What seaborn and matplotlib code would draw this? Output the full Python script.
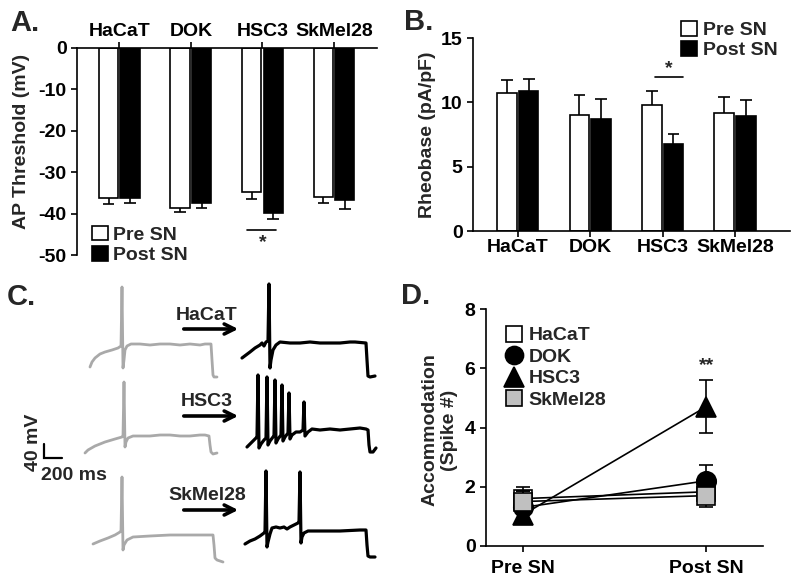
import numpy as np
import pandas as pd
import seaborn as sns
import matplotlib.pyplot as plt
from matplotlib.patches import Patch
from matplotlib.lines import Line2D

cells = ['HaCaT', 'DOK', 'HSC3', 'SkMel28']
conds = ['Pre SN', 'Post SN']

# A. AP threshold (mV), mean and SEM
thr_pre = [-36.2, -38.7, -34.8, -35.9]
thr_post = [-36.2, -37.5, -39.8, -36.8]
thr_pre_sem = [1.6, 0.9, 1.7, 1.6]
thr_post_sem = [1.3, 1.1, 1.6, 2.0]

# B. rheobase (pA/pF), mean and SEM
rheo_pre = [10.7, 9.0, 9.8, 9.2]
rheo_post = [10.85, 8.7, 6.75, 8.9]
rheo_pre_sem = [1.0, 1.55, 1.05, 1.2]
rheo_post_sem = [1.0, 1.55, 0.8, 1.3]

# D. accommodation (spike #), mean and SEM
acc_pre = [1.6, 1.3, 1.05, 1.5]
acc_post = [1.83, 2.2, 4.7, 1.7]
acc_pre_sem = [0.4, 0.55, 0.3, 0.35]
acc_post_sem = [0.2, 0.55, 0.9, 0.4]

# C. example traces (time, voltage relative to trace start)
hacat_pre_t = [0, 2, 5, 10, 15, 22, 28, 31, 32, 33, 34, 35, 37, 41, 50, 60, 70, 80, 90, 100, 110, 115, 121, 122, 123, 124, 127]
hacat_pre_v = [0, 5, 9, 13, 15, 17, 19, 21, 80, -1, 7, 17, 21, 23, 23, 22, 23, 23, 22, 23, 22, 23, 23, 7, -8, -10, -10]
hacat_post_t = [0, 4, 8, 13, 18, 20, 22, 24, 26, 27, 28, 29, 31, 34, 38, 48, 58, 68, 78, 88, 98, 108, 113, 124, 125, 126, 128, 133]
hacat_post_v = [0, 3, 6, 10, 13, 15, 12, 16, 17, 74, -10, -2, 8, 13, 16, 15, 15, 16, 15, 15, 15, 16, 16, 15, -2, -18, -19, -18]
hsc3_pre_t = [0, 3, 10, 20, 30, 37, 38, 39, 40, 41, 43, 48, 58, 65, 75, 85, 95, 105, 115, 120, 124, 125, 126, 128, 132]
hsc3_pre_v = [0, 3, 7, 11, 14, 16, 17, 71, 6, 11, 15, 17, 17, 17, 18, 18, 17, 17, 18, 18, 17, 8, 1, -1, 0]
hsc3_post_t = [0, 3, 6, 9, 10, 11, 12, 14, 17, 19, 20, 21, 23, 26, 27, 28, 29, 31, 34, 35, 36, 38, 41, 42, 43, 45, 49,
               53, 56, 57, 58, 61, 65, 73, 83, 93, 103, 113, 119, 121, 122, 123, 126, 129]
hsc3_post_v = [0, 3, 6, 9, 10, 72, -1, 3, 7, 9, 70, 2, 6, 10, 11, 67, 4, 8, 12, 62, 6, 10, 14, 54, 8, 12, 15,
               15, 17, 45, 11, 15, 18, 17, 18, 17, 18, 19, 18, 17, 2, -5, -5, -1]
skmel_pre_t = [0, 7, 15, 22, 27, 28, 29, 30, 31, 34, 40, 57, 77, 97, 112, 120, 121, 122, 124, 130]
skmel_pre_v = [0, 3, 6, 9, 12, 13, 67, -6, -1, 4, 7, 8, 9, 9, 9, 9, -1, -14, -16, -18]
skmel_post_t = [0, 5, 10, 15, 19, 20, 21, 22, 23, 25, 27, 31, 35, 39, 42, 45, 49, 53, 54, 55, 56, 57, 59, 63,
                75, 95, 115, 121, 122, 123, 125, 130]
skmel_post_v = [0, 3, 5, 8, 11, 12, 73, -3, 2, 10, 16, 17, 16, 17, 15, 17, 19, 21, 22, 72, 1, 7, 11, 13,
                13, 13, 14, 14, -1, -12, -13, -13]

sns.set_style('ticks')
plt.rcParams['font.family'] = ['Liberation Sans', 'DejaVu Sans']
plt.rcParams['font.weight'] = 'bold'
plt.rcParams['axes.labelweight'] = 'bold'
plt.rcParams['axes.linewidth'] = 1.2
plt.rcParams['axes.edgecolor'] = 'black'
for ax_ in ['xtick', 'ytick']:
    plt.rcParams[ax_ + '.major.width'] = 1.2
    plt.rcParams[ax_ + '.major.size'] = 4
    plt.rcParams[ax_ + '.color'] = 'black'
    plt.rcParams[ax_ + '.labelsize'] = 14

fig = plt.figure(figsize=(8, 5.81), dpi=100)


def box(left, top, right, bottom):
    return [left / 800, 1 - bottom / 581, (right - left) / 800, (bottom - top) / 581]


def bar_panel(ax, pre, post, pre_sem, post_sem, down):
    df = pd.DataFrame({'cell': cells * 2,
                       'cond': ['Pre SN'] * 4 + ['Post SN'] * 4,
                       'val': pre + post})
    sns.barplot(data=df, x='cell', y='val', hue='cond', order=cells, hue_order=conds,
                palette={'Pre SN': 'white', 'Post SN': 'black'}, edgecolor='black',
                linewidth=1.2, width=0.6, gap=0.1, errorbar=None, legend=False, ax=ax)
    for cont, vals, sems in zip(ax.containers, [pre, post], [pre_sem, post_sem]):
        xs = np.array([b.get_x() + b.get_width() / 2 for b in cont])
        vals = np.array(vals)
        ends = vals - np.array(sems) if down else vals + np.array(sems)
        ax.vlines(xs, vals, ends, color='black', lw=1.2, zorder=1)
        ax.hlines(ends, xs - 0.08, xs + 0.08, color='black', lw=1.2, zorder=1)
    ax.set_xlabel('')


def legend_patches():
    return [Patch(facecolor='white', edgecolor='black', lw=1.2, label='Pre SN'),
            Patch(facecolor='black', edgecolor='black', lw=1.2, label='Post SN')]


# ---- A ----
ax_a = fig.add_axes(box(77, 48, 377, 255))
bar_panel(ax_a, thr_pre, thr_post, thr_pre_sem, thr_post_sem, down=True)
ax_a.set_ylim(-50, 0)
ax_a.set_xlim(-0.59, 3.6)
ax_a.set_yticks([0, -10, -20, -30, -40, -50])
ax_a.set_yticklabels(['0', '-10', '-20', '-30', '-40', '-50'])
ax_a.xaxis.tick_top()
ax_a.tick_params(axis='x', pad=1.5)
for s in ['bottom', 'right']:
    ax_a.spines[s].set_visible(False)
ax_a.set_ylabel('')
ax_a.plot([1.785, 2.19], [-44, -44], color='black', lw=1.2, clip_on=False)
ax_a.text(2.0, -47.0, '*', ha='center', va='center', fontsize=14)
ax_a.legend(handles=legend_patches(), loc='lower left', bbox_to_anchor=(0.05, -0.045),
            frameon=False, fontsize=14, handlelength=0.8, handleheight=0.8,
            handletextpad=0.3, labelspacing=0.12, borderpad=0, borderaxespad=0)
fig.text(22 / 800, 1 - 141 / 581, 'AP Threshold (mV)', rotation=90, ha='center', va='center', fontsize=14)

# ---- B ----
ax_b = fig.add_axes(box(473, 38, 790, 231))
bar_panel(ax_b, rheo_pre, rheo_post, rheo_pre_sem, rheo_post_sem, down=False)
ax_b.set_ylim(0, 15)
ax_b.set_xlim(-0.62, 3.76)
ax_b.set_yticks([0, 5, 10, 15])
ax_b.tick_params(axis='x', pad=1.5)
sns.despine(ax=ax_b)
ax_b.set_ylabel('')
ax_b.plot([1.895, 2.28], [12.0, 12.0], color='black', lw=1.2, clip_on=False)
ax_b.text(2.09, 12.6, '*', ha='center', va='center', fontsize=14)
ax_b.legend(handles=legend_patches(), loc='upper right', bbox_to_anchor=(0.96, 1.09),
            frameon=False, fontsize=14, handlelength=0.8, handleheight=0.8,
            handletextpad=0.3, labelspacing=0.12, borderpad=0, borderaxespad=0)
fig.text(428 / 800, 1 - 135 / 581, 'Rheobase (pA/pF)', rotation=90, ha='center', va='center', fontsize=14)

# ---- C ----
ax_c = fig.add_axes(box(0, 280, 400, 581))
ax_c.set_xlim(0, 400)
ax_c.set_ylim(581, 280)
ax_c.axis('off')
traces = [
    (hacat_pre_t, hacat_pre_v, (90, 367), '#a9a9a9', 2.0),
    (hacat_post_t, hacat_post_v, (242, 358), 'black', 2.3),
    (hsc3_pre_t, hsc3_pre_v, (85, 453), '#a9a9a9', 2.0),
    (hsc3_post_t, hsc3_post_v, (247, 447), 'black', 2.3),
    (skmel_pre_t, skmel_pre_v, (93, 544), '#a9a9a9', 2.0),
    (skmel_post_t, skmel_post_v, (245, 544), 'black', 2.3),
]
for t, v, (x0, y0), col, lw in traces:
    sns.lineplot(x=np.array(t) + x0, y=y0 - np.array(v), color=col, lw=lw, sort=False,
                 estimator=None, ax=ax_c)
for name, y in [('HaCaT', 329), ('HSC3', 416), ('SkMel28', 510)]:
    ax_c.annotate('', xy=(241, y), xytext=(181, y),
                  arrowprops=dict(arrowstyle='->', lw=2.6, mutation_scale=18, color='black'))
    ax_c.text(207, y - 14, name, ha='center', va='center', fontsize=14)
ax_c.plot([44, 44, 62], [444, 458, 458], color='black', lw=1.6, solid_joinstyle='miter')
ax_c.text(33, 442, '40 mV', rotation=90, ha='center', va='center', fontsize=14)
ax_c.text(41, 476, '200 ms', ha='left', va='center', fontsize=14)

# ---- D ----
ax_d = fig.add_axes(box(486, 309, 763, 546))
styles = {
    'HaCaT': dict(marker='s', markerfacecolor='white', markersize=13),
    'DOK': dict(marker='o', markerfacecolor='black', markersize=14),
    'HSC3': dict(marker='^', markerfacecolor='black', markersize=15),
    'SkMel28': dict(marker='s', markerfacecolor='#c0c0c0', markersize=13),
}
for i, c in enumerate(cells):
    ax_d.errorbar([0, 1], [acc_pre[i], acc_post[i]], yerr=[acc_pre_sem[i], acc_post_sem[i]],
                  fmt='none', ecolor='black', elinewidth=1.2, capsize=5, capthick=1.2, zorder=2 + i)
    sns.lineplot(x=[0, 1], y=[acc_pre[i], acc_post[i]], color='black', lw=1.2,
                 markeredgecolor='black', markeredgewidth=1.2, zorder=2.5 + i, ax=ax_d, **styles[c])
ax_d.set_xlim(-0.2, 1.31)
ax_d.set_ylim(0, 8)
ax_d.set_xticks([0, 1])
ax_d.set_xticklabels(conds)
ax_d.set_yticks([0, 2, 4, 6, 8])
ax_d.tick_params(axis='x', pad=6)
sns.despine(ax=ax_d)
ax_d.text(1.0, 6.1, '**', ha='center', va='center', fontsize=14)
handles = [Line2D([], [], ls='none', markeredgecolor='black', markeredgewidth=1.2,
                  label=c, **{k: (v - 1 if k == 'markersize' else v) for k, v in styles[c].items()})
           for c in cells]
ax_d.legend(handles=handles, loc='upper left', bbox_to_anchor=(0.07, 0.925), frameon=False,
            fontsize=14, handlelength=0.9, handletextpad=0.3, labelspacing=0.2,
            borderpad=0, borderaxespad=0)
fig.text(430 / 800, 1 - 430 / 581, 'Accommodation', rotation=90, ha='center', va='center', fontsize=14)
fig.text(449 / 800, 1 - 430 / 581, '(Spike #)', rotation=90, ha='center', va='center', fontsize=14)

# panel letters
for letter, x, y in [('A.', 25, 23), ('B.', 419, 22), ('C.', 21, 297), ('D.', 416, 296)]:
    fig.text(x / 800, 1 - y / 581, letter, ha='center', va='center', fontsize=21)

fig.savefig('out.png', dpi=100)
